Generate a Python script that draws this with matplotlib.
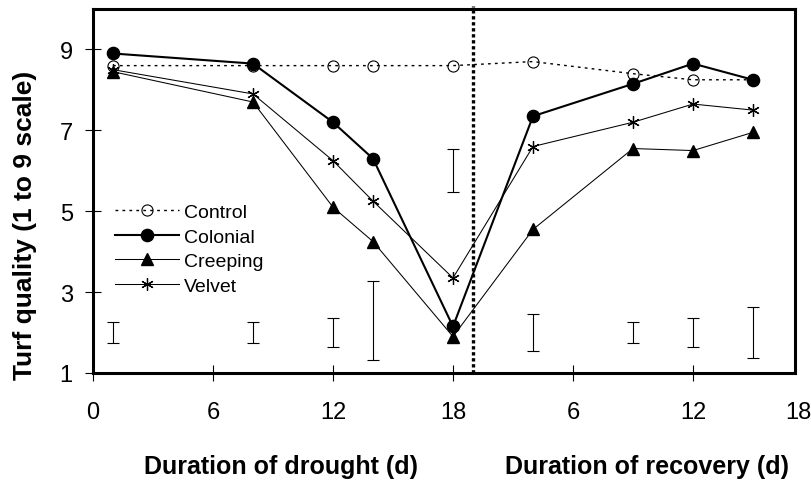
import matplotlib
matplotlib.use("Agg")
import matplotlib.pyplot as plt

plt.rcParams['font.family'] = ['Liberation Sans', 'DejaVu Sans']

# days of drought, then days of recovery (recovery plotted after day 18)
drought_days = [1, 8, 12, 14, 18]
recovery_days = [4, 9, 12, 15]

control = [8.6, 8.6, 8.6, 8.6, 8.6, 8.7, 8.4, 8.25, 8.25]
colonial = [8.9, 8.65, 7.2, 6.3, 2.15, 7.35, 8.15, 8.65, 8.25]
creeping = [8.45, 7.7, 5.1, 4.25, 1.9, 4.55, 6.55, 6.5, 6.95]
velvet = [8.5, 7.9, 6.25, 5.25, 3.35, 6.6, 7.2, 7.65, 7.5]

# LSD bars: midpoint and total length
lsd_mid = [2.0, 2.0, 2.0, 2.3, 6.0, 2.0, 2.0, 2.0, 2.0]
lsd_size = [0.51, 0.51, 0.7, 1.97, 1.07, 0.9, 0.51, 0.7, 1.28]

tick_labels = ['0', '6', '12', '18', '6', '12', '18']

offset = 18
x = drought_days + [offset + d for d in recovery_days]
tick_pos = [0, 6, 12, 18, 24, 30, 36]

fig = plt.figure(figsize=(8.12, 4.81), dpi=100)
ax = fig.add_axes([93 / 812, 1 - 374 / 481, 702 / 812, 364 / 481])

ax.plot(x, control, color='black', lw=1.0, ls=(0, (2, 3)), marker='o', ms=8,
        mfc='none', mec='black', mew=0.8, label='Control')
ax.plot(x, colonial, color='black', lw=1.5, marker='o', ms=8.8, mfc='black',
        mec='black', label='Colonial')
ax.plot(x, creeping, color='black', lw=0.75, marker='^', ms=8.5, mfc='black',
        mec='black', label='Creeping')
ax.plot(x, velvet, color='black', lw=0.75, marker=(6, 2, 0), ms=9, mec='black',
        mew=0.9, label='Velvet')

ax.errorbar(x, lsd_mid, yerr=[s / 2 for s in lsd_size], fmt='none', ecolor='black',
            elinewidth=0.8, capsize=4.5, capthick=0.8)

# boundary between drought and recovery
ax.plot([19, 19], [1, 10.08], color='black', lw=2.4, ls=(0, (1, 0.8)), clip_on=False)

ax.set_xlim(0, 35.1)
ax.set_ylim(1, 10)
ax.set_xticks(tick_pos[:-1])
ax.set_xticklabels(tick_labels[:-1])
ax.set_yticks([1, 3, 5, 7, 9])
ax.annotate(tick_labels[-1], xy=(35.25, 0), xycoords=('data', 'axes fraction'),
            xytext=(0, -20), textcoords='offset points', ha='center', va='top',
            fontsize=17)

ax.tick_params(axis='x', direction='inout', length=12, width=0.8, pad=14, labelsize=17)
ax.tick_params(axis='y', direction='inout', length=12, width=0.8, pad=8.5, labelsize=17)
for s in ax.spines.values():
    s.set_linewidth(2.2)

ax.legend(loc='upper left', bbox_to_anchor=(0.031, 0.466), frameon=False,
          fontsize=14, handlelength=3.3, handletextpad=0.25, labelspacing=0.36,
          borderpad=0, borderaxespad=0, numpoints=1)

fig.text(25 / 812, 1 - 225 / 481, 'Turf quality (1 to 9 scale)', rotation=90,
         ha='center', va='center', fontsize=19, fontweight='bold')
fig.text(281 / 812, 1 - 467 / 481, 'Duration of drought (d)', ha='center',
         va='center', fontsize=18, fontweight='bold')
fig.text(647 / 812, 1 - 467 / 481, 'Duration of recovery (d)', ha='center',
         va='center', fontsize=18, fontweight='bold')

fig.savefig('out.png', dpi=100)
